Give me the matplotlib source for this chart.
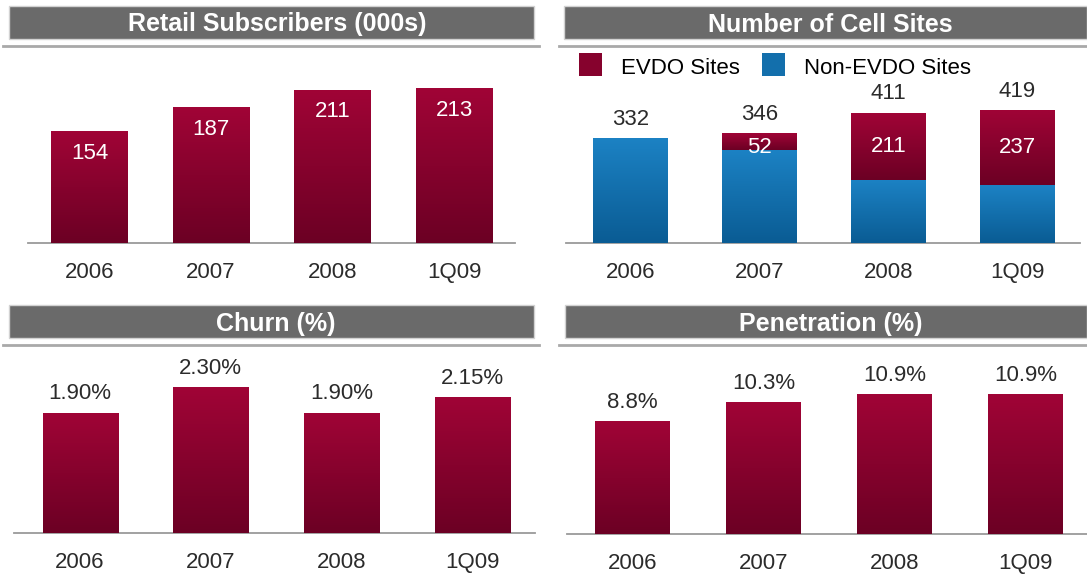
import numpy as np
import matplotlib
matplotlib.use("Agg")
import matplotlib.pyplot as plt
from matplotlib.patches import Rectangle
from matplotlib.lines import Line2D

# данные
periods = ["2006", "2007", "2008", "1Q09"]
subscribers = [154, 187, 211, 213]
evdo_sites = [0, 52, 211, 237]
non_evdo_sites = [332, 294, 200, 182]
churn = [1.90, 2.30, 1.90, 2.15]
penetration = [8.8, 10.3, 10.9, 10.9]

W, H = 1087, 581
RED_TOP, RED_BOT = np.array([160, 4, 54]) / 255, np.array([108, 0, 36]) / 255
BLUE_TOP, BLUE_BOT = np.array([28, 130, 196]) / 255, np.array([10, 92, 148]) / 255
GREY_BAR = "#6a6a6a"
TXT = "#2b2b2b"

plt.rcParams["font.family"] = ["Liberation Sans", "DejaVu Sans"]

fig = plt.figure(figsize=(W / 100, H / 100), dpi=100)


def px_box(x0, y0, x1, y1):
    # пиксели картинки -> доли фигуры
    return [x0 / W, 1 - y1 / H, (x1 - x0) / W, (y1 - y0) / H]


def title_bar(x0, x1, y0, y1, line_y, lx0, lx1, text, tx):
    fig.add_artist(Rectangle((x0 / W, 1 - y1 / H), (x1 - x0) / W, (y1 - y0) / H,
                             transform=fig.transFigure, facecolor=GREY_BAR,
                             edgecolor="#d2d2d2", lw=1))
    fig.add_artist(Line2D([lx0 / W, lx1 / W], [1 - line_y / H] * 2,
                          transform=fig.transFigure, color="#a9a9a9", lw=2))
    fig.text(tx / W, 1 - ((y0 + y1) / 2 + 2) / H, text, color="white", fontsize=18,
             fontweight="bold", ha="center", va="center")


def gradient(ax, bars, top, bot):
    g = np.linspace(0, 1, 64)[:, None, None]
    img = bot + (top - bot) * g
    for b in bars:
        if b.get_height() <= 0:
            continue
        x0, y0 = b.get_x(), b.get_y()
        im = ax.imshow(img, extent=[x0, x0 + b.get_width(), y0, y0 + b.get_height()],
                       origin="lower", aspect="auto", interpolation="bilinear", zorder=3)
        im.set_clip_path(b)


def setup(ax, xlim, ylim):
    ax.set_xlim(*xlim)
    ax.set_ylim(*ylim)
    for s in ["top", "left", "right"]:
        ax.spines[s].set_visible(False)
    ax.spines["bottom"].set_color("#9a9a9a")
    ax.spines["bottom"].set_linewidth(1.3)
    ax.set_yticks([])
    ax.set_xticks(range(len(periods)))
    ax.set_xticklabels(periods, fontsize=16, color=TXT)
    ax.tick_params(axis="x", length=0, pad=14)
    ax.patch.set_alpha(0)


x = np.arange(len(periods))

# Retail Subscribers
title_bar(9, 534, 6, 39, 46, 3, 539, "Retail Subscribers (000s)", 277)
ax1 = fig.add_axes(px_box(28, 50, 515, 243))
b1 = ax1.bar(x, subscribers, width=0.63, color=RED_BOT, zorder=2)
gradient(ax1, b1, RED_TOP, RED_BOT)
for xi, v in zip(x, subscribers):
    ax1.annotate(str(v), (xi, v), xytext=(0, -16), textcoords="offset points",
                 ha="center", va="center", color="white", fontsize=16, zorder=5)
setup(ax1, (-0.505, 3.5), (0, 265.5))

# Number of Cell Sites
title_bar(564, 1087, 6, 39, 46, 559, 1087, "Number of Cell Sites", 830)
ax2 = fig.add_axes(px_box(566, 50, 1080, 243))
b2n = ax2.bar(x, non_evdo_sites, width=0.58, color=BLUE_BOT, zorder=2)
b2e = ax2.bar(x, evdo_sites, width=0.58, bottom=non_evdo_sites, color=RED_BOT, zorder=2)
gradient(ax2, b2n, BLUE_TOP, BLUE_BOT)
gradient(ax2, b2e, RED_TOP, RED_BOT)
for xi, n, e in zip(x, non_evdo_sites, evdo_sites):
    ax2.annotate(str(n + e), (xi, n + e), xytext=(0, 13.5), textcoords="offset points",
                 ha="center", va="center", color=TXT, fontsize=16, zorder=5)
    if e > 0:
        off = -4 if e < 100 else 0
        ax2.annotate(str(e), (xi, n + e / 2), xytext=(0, off), textcoords="offset points",
                     ha="center", va="center", color="white", fontsize=16, zorder=5)
setup(ax2, (-0.5, 3.485), (0, 608.8))

# легенда
for sx, col, lab in [(579, (RED_TOP + RED_BOT) / 2, "EVDO Sites"),
                     (762, (BLUE_TOP + BLUE_BOT) / 2, "Non-EVDO Sites")]:
    fig.add_artist(Rectangle((sx / W, 1 - 76 / H), 23 / W, 23 / H,
                             transform=fig.transFigure, facecolor=col, lw=0))
    fig.text((sx + 42) / W, 1 - 66 / H, lab, fontsize=16, color="black",
             ha="left", va="center_baseline")

# Churn
title_bar(9, 534, 305, 338, 345, 3, 539, "Churn (%)", 276)
ax3 = fig.add_axes(px_box(14, 352, 535, 533))
b3 = ax3.bar(x, churn, width=0.574, color=RED_BOT, zorder=2)
gradient(ax3, b3, RED_TOP, RED_BOT)
for xi, v in zip(x, churn):
    ax3.annotate(f"{v:.2f}%", (xi, v), xytext=(0, 13.5), textcoords="offset points",
                 ha="center", va="center", color=TXT, fontsize=16, zorder=5)
setup(ax3, (-0.505, 3.48), (0, 2.859))

# Penetration
title_bar(565, 1087, 305, 338, 345, 559, 1087, "Penetration (%)", 831)
ax4 = fig.add_axes(px_box(567, 352, 1087, 534))
b4 = ax4.bar(x, penetration, width=0.57, color=RED_BOT, zorder=2)
gradient(ax4, b4, RED_TOP, RED_BOT)
for xi, v in zip(x, penetration):
    ax4.annotate(f"{v:.1f}%", (xi, v), xytext=(0, 13.5), textcoords="offset points",
                 ha="center", va="center", color=TXT, fontsize=16, zorder=5)
setup(ax4, (-0.5, 3.47), (0, 14.22))

fig.savefig("out.png", dpi=100, facecolor="white")
